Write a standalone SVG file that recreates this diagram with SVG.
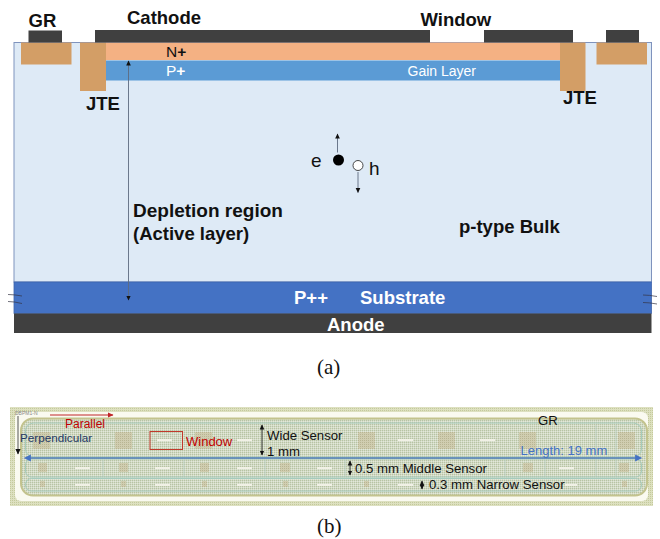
<svg xmlns="http://www.w3.org/2000/svg" width="660" height="539" viewBox="0 0 660 539">
<style>
text{font-family:"Liberation Sans",Arial,sans-serif;fill:#111}
.b{font-weight:bold;font-size:18.500px}
.w{fill:#fff}
.metal{fill:#404040}
.impl{fill:#d39e66}
.ln{stroke:#5d6b80;stroke-width:.9;fill:none}
.k{stroke:#222;stroke-width:.9;fill:none}
.c{font-size:13.200px}
.pad{fill:url(#pad)}
.slot{fill:#f1f1e6}
.sep{stroke:#b9cfc4;stroke-width:.8;fill:none}
.cap{font-family:"Liberation Serif",serif;font-size:21px}
</style>
<defs>
<marker id="a" markerWidth="6" markerHeight="6" refX="5" refY="3" orient="auto-start-reverse"><path d="M0 .4L5.500 3L0 5.600z" fill="#111"/></marker>
<marker id="r" markerWidth="6" markerHeight="6" refX="5" refY="3" orient="auto"><path d="M0 .4L5.500 3L0 5.600z" fill="#c0262a"/></marker>
<marker id="bl" markerWidth="6" markerHeight="6" refX="3" refY="3" orient="auto-start-reverse"><path d="M0 .4L5.500 3L0 5.600z" fill="#4472c4"/></marker>
<pattern id="chk" width="2" height="2" patternUnits="userSpaceOnUse"><rect width="2" height="2" fill="#d2dac4"/><rect width="1" height="1" fill="#b7c3a4"/><rect x="1" y="1" width="1" height="1" fill="#e2e7da"/></pattern>
<pattern id="rim" width="2" height="2" patternUnits="userSpaceOnUse"><rect width="2" height="2" fill="#dde0c0"/><rect width="1" height="1" fill="#c4ca9c"/></pattern>
<pattern id="pad" width="2" height="2" patternUnits="userSpaceOnUse"><rect width="2" height="2" fill="#d0cdb0"/><rect width="1" height="1" fill="#b8b592"/></pattern>
</defs>

<g id="bulk"><rect x="14" y="42.500" width="637.500" height="239.500" fill="#deeaf6" stroke="#7f93bd" stroke-width="1"/></g>
<g id="substrate"><rect x="14" y="282" width="637.500" height="31.500" fill="#4472c4" stroke="#3d64ad" stroke-width=".8"/>
<text class="b w" x="294" y="304">P++</text><text class="b w" x="360" y="304">Substrate</text></g>
<g id="anode"><rect x="14" y="313.500" width="637.500" height="19.500" class="metal"/><text class="b w" x="327" y="331">Anode</text></g>
<g id="n-plus"><rect x="106" y="42.500" width="454" height="17.500" fill="#f4b183"/><text x="166" y="57" font-size="15.500">N<tspan font-weight="bold">+</tspan></text></g>
<g id="p-plus"><rect x="106" y="60.500" width="454" height="20" fill="#5b9bd5"/><text class="w" x="166" y="76" font-size="15.500">P<tspan font-weight="bold">+</tspan></text><text class="w" x="407.500" y="76" font-size="14">Gain Layer</text></g>
<g id="jte-left"><rect x="80" y="42.500" width="26" height="48.500" class="impl"/><text class="b" x="86" y="110">JTE</text></g>
<g id="jte-right"><rect x="560" y="42.500" width="25.500" height="48.500" class="impl"/><text class="b" x="563" y="104">JTE</text></g>
<g id="gr-left"><rect x="21" y="42.500" width="50.500" height="22" class="impl"/><rect x="28.500" y="30.500" width="33.500" height="12" class="metal"/><text class="b" x="28.500" y="26.500">GR</text></g>
<g id="gr-right"><rect x="596.500" y="42.500" width="50.500" height="22" class="impl"/><rect x="606" y="30" width="33" height="12.500" class="metal"/></g>
<g id="cathode"><rect x="95" y="30" width="335" height="12.500" class="metal"/><rect x="484" y="30" width="89" height="12.500" class="metal"/><text class="b" x="127" y="24">Cathode</text></g>
<text class="b" x="420.500" y="26">Window</text>

<g id="carriers">
<circle cx="338.500" cy="160" r="5.500" fill="#000"/><circle cx="358" cy="165.500" r="5" fill="#fff" stroke="#333" stroke-width=".9"/>
<text x="311" y="167" font-size="19">e</text><text x="369" y="175" font-size="19">h</text>
</g>
<g id="connectors">
<path class="ln" d="M337.500 152.500V134" marker-end="url(#a)"/>
<path class="ln" d="M358 172V192.500" marker-end="url(#a)"/>
<path class="ln" d="M128.500 300V61" marker-end="url(#a)" marker-start="url(#a)"/>
<path d="M8 294.500Q14 294.500 22 296M8 301.500Q14 301.500 22 303.500M643 295Q649 295 657 296.500M643 302.500Q649 302.500 657 304" stroke="#334" stroke-width=".7" fill="none"/>
</g>
<text class="b" x="133" y="216.500" style="font-size:19px">Depletion region</text>
<text class="b" x="133" y="239.500">(Active layer)</text>
<text class="b" x="459" y="232.500">p-type Bulk</text>
<text class="cap" x="317" y="374">(a)</text>

<g id="chip">
<rect x="10" y="407" width="643" height="99" fill="url(#rim)"/>
<rect x="15" y="412" width="633" height="89" rx="6" fill="#fafaf0"/>
<rect x="21" y="418.500" width="626" height="77" rx="12" fill="url(#chk)" stroke="#c3c38e" stroke-width="2"/>
<rect x="25.500" y="423" width="616" height="34" rx="8" fill="none" stroke="#a6cbbd" stroke-width="1"/>
<rect x="25.500" y="459" width="616" height="18" rx="6" fill="none" stroke="#a6cbbd" stroke-width="1"/>
<rect x="25.500" y="478.500" width="616" height="12.500" rx="6" fill="none" stroke="#a6cbbd" stroke-width="1"/>
<g class="pad"><rect x="33" y="432" width="17" height="17"/><rect x="115" y="432" width="17" height="17"/><rect x="195" y="432" width="17" height="17"/><rect x="358" y="432" width="17" height="17"/><rect x="438" y="432" width="17" height="17"/><rect x="519" y="432" width="17" height="17"/><rect x="618" y="432" width="17" height="17"/>
<rect x="38" y="463" width="9" height="9"/><rect x="119" y="463" width="9" height="9"/><rect x="200" y="463" width="9" height="9"/><rect x="280" y="463" width="10" height="9"/><rect x="523" y="463" width="10" height="9"/><rect x="619" y="463" width="10" height="9"/>
<rect x="40" y="481" width="5" height="6"/><rect x="121" y="481" width="5" height="6"/><rect x="202" y="481" width="5" height="6"/><rect x="283" y="481" width="5" height="6"/><rect x="364" y="481" width="5" height="6"/><rect x="622" y="481" width="5" height="6"/></g>
<g class="slot"><rect x="157" y="439" width="15" height="2"/><rect x="237" y="439" width="15" height="2"/><rect x="398" y="439" width="15" height="2"/><rect x="480" y="439" width="15" height="2"/>
<rect x="75" y="467" width="15" height="2"/><rect x="155" y="467" width="15" height="2"/><rect x="237" y="467" width="15" height="2"/><rect x="317" y="467" width="15" height="2"/><rect x="559" y="467" width="15" height="2"/>
<rect x="75" y="484" width="15" height="2"/><rect x="155" y="484" width="15" height="2"/><rect x="237" y="484" width="15" height="2"/><rect x="317" y="484" width="15" height="2"/><rect x="398" y="484" width="15" height="2"/><rect x="565" y="484" width="12" height="2"/></g>
<path class="sep" d="M103 460V476M184 460V476M265 460V476M345 460V476M505 460V476M545 460V476M596 425V476M616 425V476"/>
<text x="15" y="415" font-size="5" style="fill:#888">DBPM1-N</text>
</g>
<g id="chip-annotations">
<path d="M50 415H113" stroke="#c0262a" stroke-width="1" fill="none" marker-end="url(#r)"/>
<path d="M18 416V454" stroke="#555" stroke-width="1" fill="none" marker-end="url(#a)"/>
<path d="M27 458H639" stroke="#4f7cb8" stroke-width="1.300" fill="none" marker-start="url(#bl)" marker-end="url(#bl)"/>
<path class="k" d="M262 425V455" marker-start="url(#a)" marker-end="url(#a)"/>
<path class="k" d="M350 461V475" marker-start="url(#a)" marker-end="url(#a)"/>
<path class="k" d="M422 481V489" marker-start="url(#a)" marker-end="url(#a)"/>
<rect x="150" y="431.500" width="32.500" height="18" fill="none" stroke="#c0392b" stroke-width="1"/>
<text x="65" y="428" font-size="12" style="fill:#c00000">Parallel</text>
<text x="20" y="442" font-size="11.700" style="fill:#1f3864">Perpendicular</text>
<text x="186" y="446" font-size="13" style="fill:#c00000">Window</text>
<text class="c" x="267" y="440">Wide Sensor</text>
<text class="c" x="267" y="456">1 mm</text>
<text class="c" x="355" y="473">0.5 mm Middle Sensor</text>
<text class="c" x="429" y="489">0.3 mm Narrow Sensor</text>
<text class="c" x="538" y="425">GR</text>
<text x="520.500" y="455" font-size="13" style="fill:#4472c4">Length: 19 mm</text>
</g>
<text class="cap" x="317" y="533">(b)</text>
</svg>
